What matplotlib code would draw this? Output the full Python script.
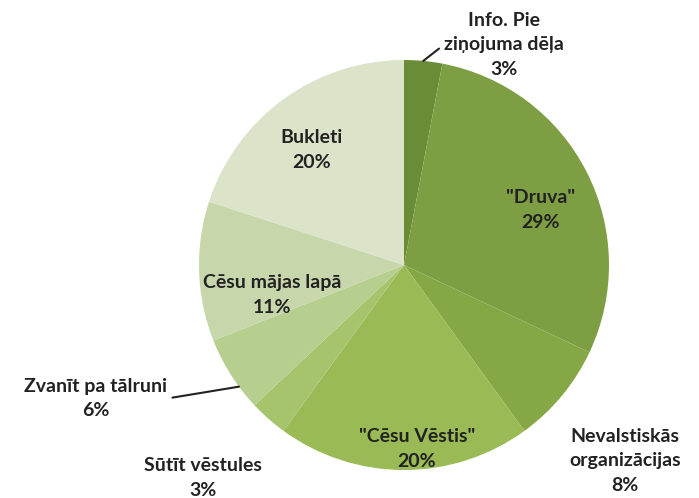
import numpy as np
import matplotlib
matplotlib.use("Agg")
import matplotlib.pyplot as plt

# survey answers, clockwise from 12 o'clock
labels = ["Info. Pie\nziņojuma dēļa", "\"Druva\"", "Nevalstiskās\norganizācijas",
          "\"Cēsu Vēstis\"", "Sūtīt vēstules", "Zvanīt pa tālruni",
          "Cēsu mājas lapā", "Bukleti"]
shares = [3, 29, 8, 20, 3, 6, 11, 20]

colors = ["#6b8c36", "#7e9e43", "#86a746", "#9aba55", "#a5c46c",
          "#b6cf8e", "#c8d7ab", "#dbe4c9"]
# label placement: distance from centre (in radii) and angle shift (deg)
lab_r = [1.18, 0.72, 1.44, 0.90, 1.43, 1.64, 0.66, 0.72]
lab_shift = [19, 5, 2, -4, 2, 9, -11, -3]
leader = [True, False, False, False, False, True, False, False]
leader_shift = [0, 0, 0, 0, 0, -4, 0, 0]

fig = plt.figure(figsize=(6.99, 4.98), dpi=100)
ax = fig.add_axes([0, 0, 1, 1])
ax.axis("off")

cx, cy, R = 404, 233, 205
ax.pie(shares, colors=colors, startangle=90, counterclock=False,
       center=(cx, cy), radius=R, wedgeprops=dict(linewidth=0))
ax.set_xlim(0, 699)
ax.set_ylim(0, 498)
ax.set_aspect("equal")

fs = 14
total = float(sum(shares))
start = 0.0
for i, (lab, v) in enumerate(zip(labels, shares)):
    mid = start + v / total * 360 / 2
    start += v / total * 360
    a = np.radians(mid + lab_shift[i])
    tx = cx + R * lab_r[i] * np.sin(a)
    ty = cy + R * lab_r[i] * np.cos(a)
    txt = f"{lab}\n{v}%"
    if leader[i]:
        am = np.radians(mid + leader_shift[i])
        ex = cx + R * np.sin(am)
        ey = cy + R * np.cos(am)
        if ex > tx:
            rel = (1, 0.5)
        else:
            rel = (0, 0.5)
        ax.annotate(txt, xy=(ex, ey), xytext=(tx, ty), ha="center", va="center",
                    fontsize=fs, fontweight="bold", color="#222222",
                    family="Lato", linespacing=1.55,
                    arrowprops=dict(arrowstyle="-", color="#222222", lw=1.5,
                                    relpos=rel, shrinkA=2, shrinkB=0))
    else:
        ax.text(tx, ty, txt, ha="center", va="center", fontsize=fs,
                fontweight="bold", color="#222222", family="Lato",
                linespacing=1.55)

fig.savefig("out.png", dpi=100)
